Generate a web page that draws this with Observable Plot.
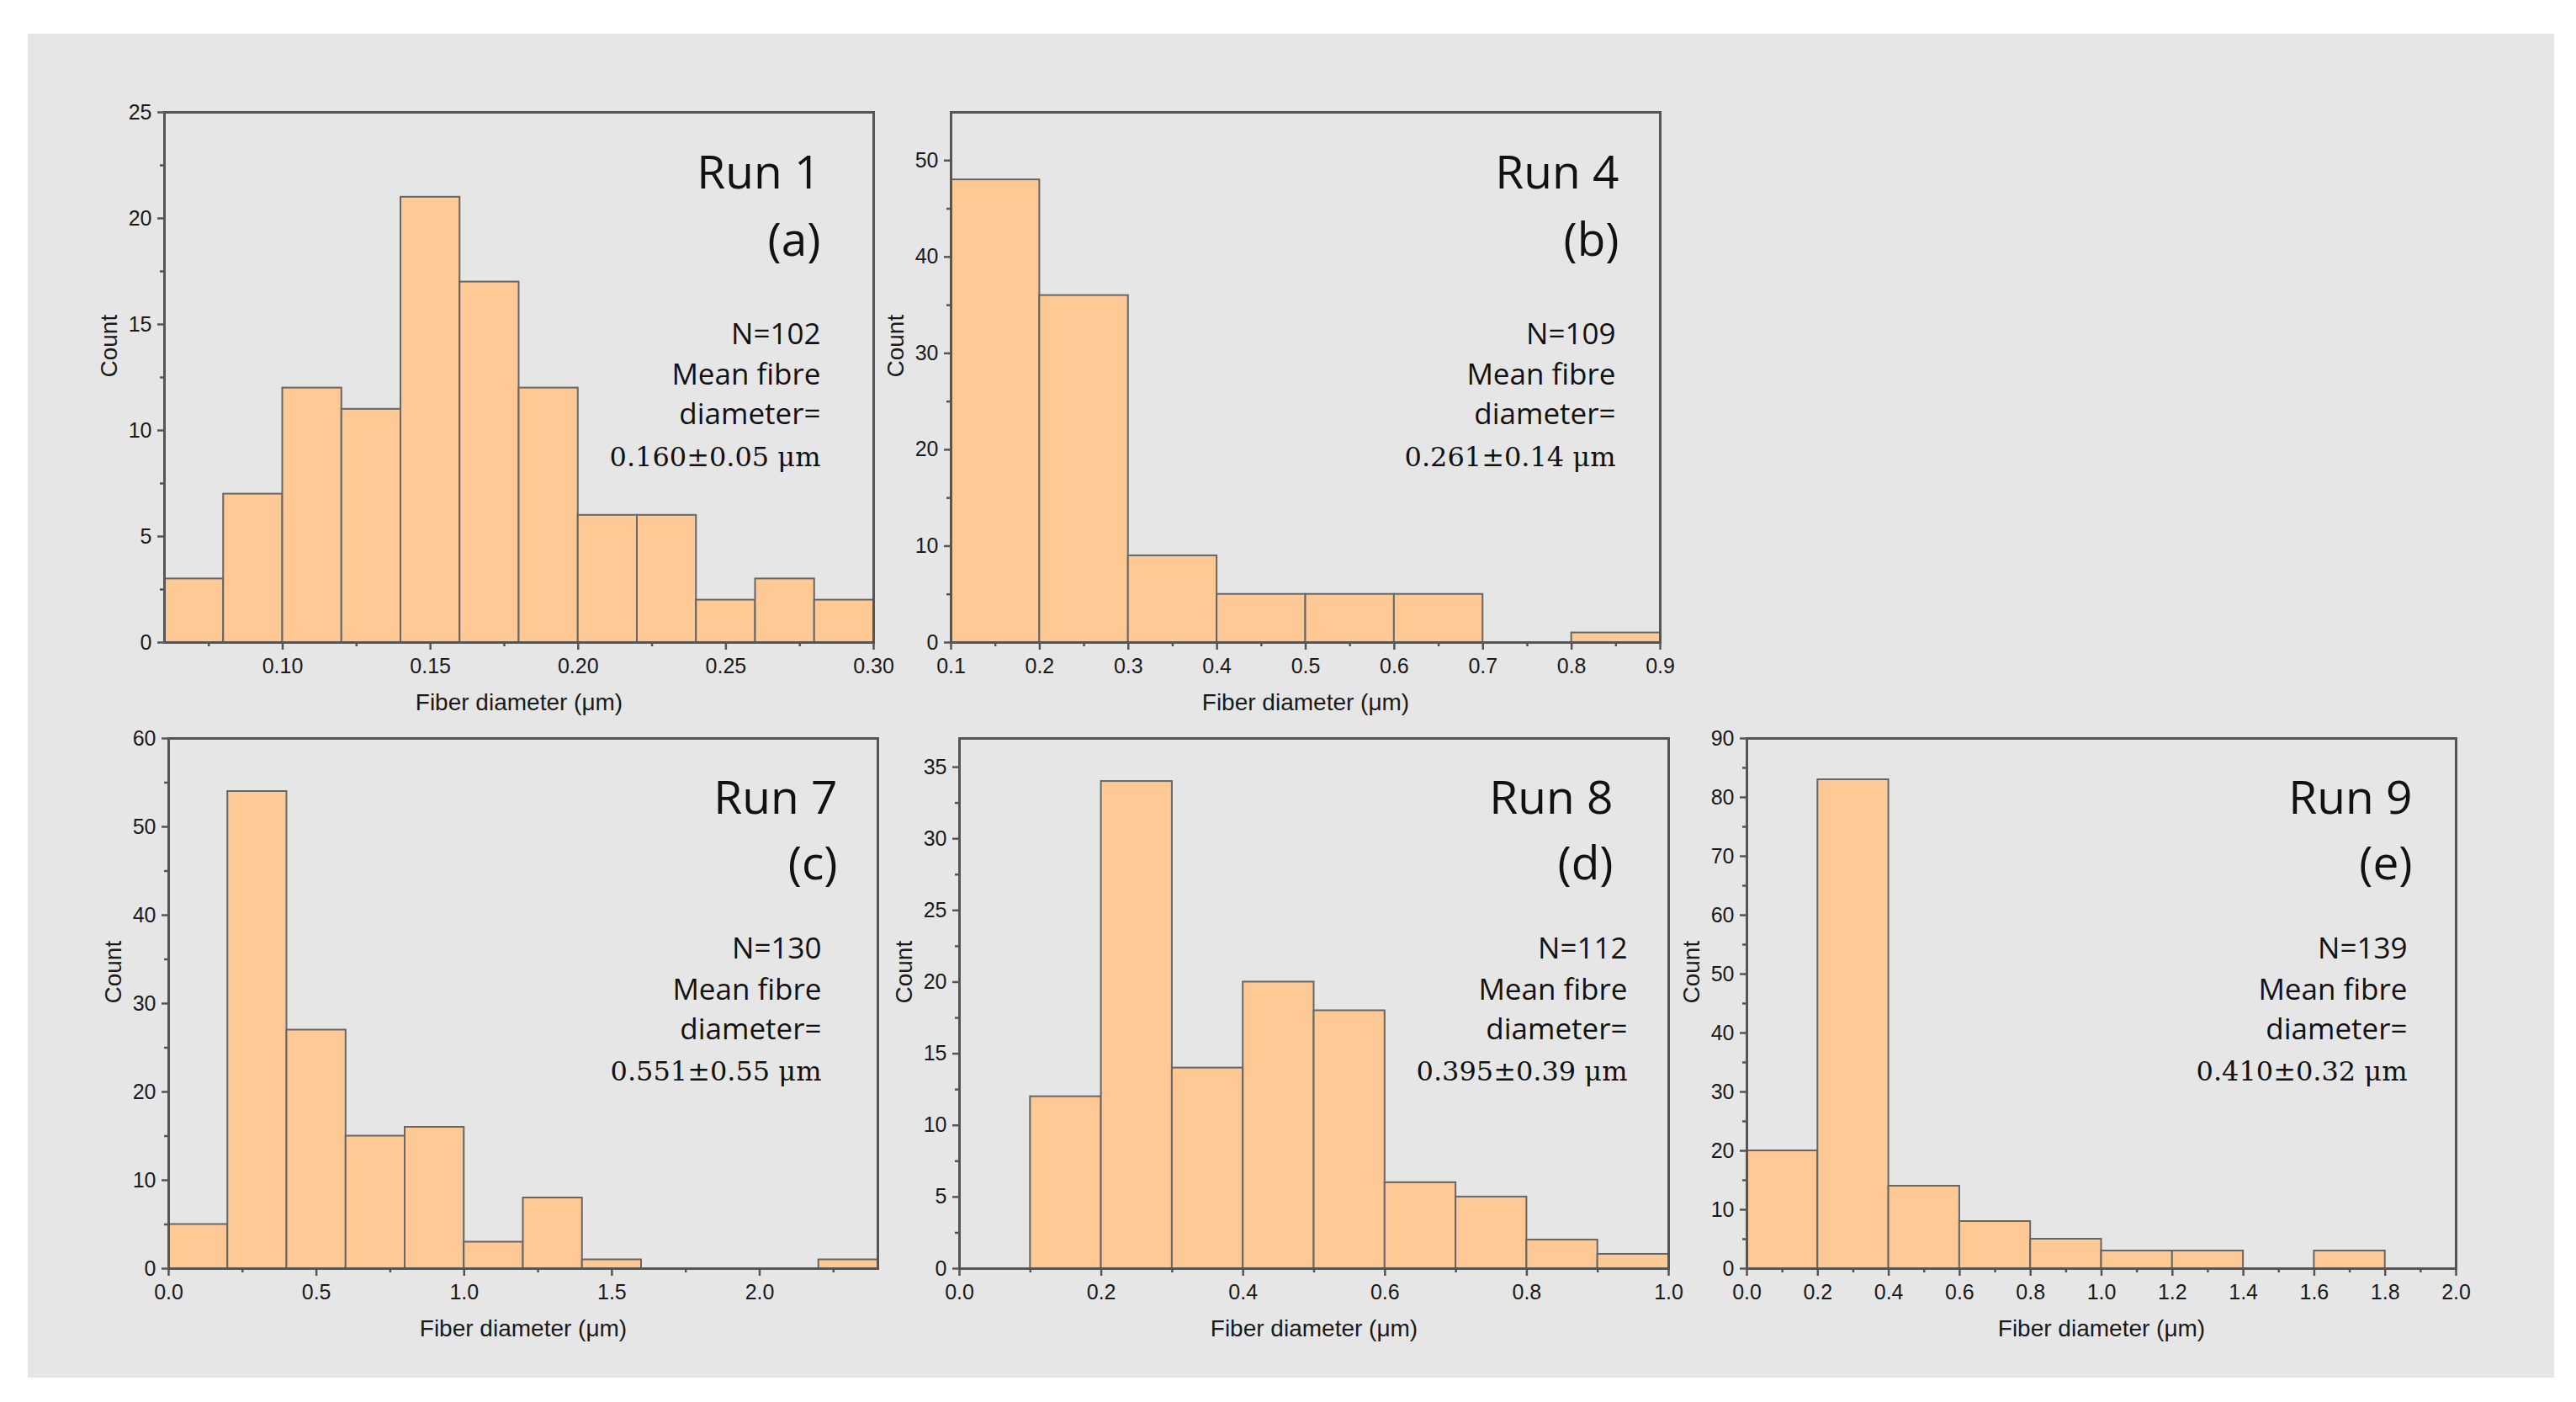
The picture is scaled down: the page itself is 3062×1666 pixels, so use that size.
<!DOCTYPE html>
<html>
<head>
<meta charset="utf-8">
<script src="https://cdn.jsdelivr.net/npm/d3@7"></script>
<script src="https://cdn.jsdelivr.net/npm/@observablehq/plot@0.6"></script>
<style>
html, body { margin: 0; padding: 0; background: #ffffff; }
#page { position: relative; width: 3062px; height: 1666px; overflow: hidden; background: #ffffff; }
#bg { position: absolute; left: 33px; top: 40px; width: 3003px; height: 1597px; background: #e6e6e6; }
.panel { position: absolute; }
.panel svg { overflow: visible; display: block; }
</style>
</head>
<body>
<div id="page"><div id="bg"></div></div>
<script>
// ---------- data ----------
const runNames = ["Run 1", "Run 4", "Run 7", "Run 8", "Run 9"];
const panelLetters = ["(a)", "(b)", "(c)", "(d)", "(e)"];
const sampleN = [102, 109, 130, 112, 139];
const meanDiameter = ["0.160", "0.261", "0.551", "0.395", "0.410"];
const sdDiameter = ["0.05", "0.14", "0.55", "0.39", "0.32"];
const xTitle = "Fiber diameter (\u03bcm)";
const yTitle = "Count";
const statsLine2 = "Mean fibre";
const statsLine3 = "diameter=";

// Run 1 (a)
const edgesA = [0.06, 0.08, 0.10, 0.12, 0.14, 0.16, 0.18, 0.20, 0.22, 0.24, 0.26, 0.28, 0.30];
const countsA = [3, 7, 12, 11, 21, 17, 12, 6, 6, 2, 3, 2];
const xTicksA = [0.10, 0.15, 0.20, 0.25, 0.30];
const xMinorA = [0.075, 0.125, 0.175, 0.225, 0.275];
const yTicksA = [0, 5, 10, 15, 20, 25];
const yMinorA = [2.5, 7.5, 12.5, 17.5, 22.5];

// Run 4 (b)
const edgesB = [0.1, 0.2, 0.3, 0.4, 0.5, 0.6, 0.7, 0.8, 0.9];
const countsB = [48, 36, 9, 5, 5, 5, 0, 1];
const xTicksB = [0.1, 0.2, 0.3, 0.4, 0.5, 0.6, 0.7, 0.8, 0.9];
const xMinorB = [0.15, 0.25, 0.35, 0.45, 0.55, 0.65, 0.75, 0.85];
const yTicksB = [0, 10, 20, 30, 40, 50];
const yMinorB = [5, 15, 25, 35, 45];

// Run 7 (c)
const edgesC = [0.0, 0.2, 0.4, 0.6, 0.8, 1.0, 1.2, 1.4, 1.6, 1.8, 2.0, 2.2, 2.4];
const countsC = [5, 54, 27, 15, 16, 3, 8, 1, 0, 0, 0, 1];
const xTicksC = [0.0, 0.5, 1.0, 1.5, 2.0];
const xMinorC = [0.25, 0.75, 1.25, 1.75, 2.25];
const yTicksC = [0, 10, 20, 30, 40, 50, 60];
const yMinorC = [5, 15, 25, 35, 45, 55];

// Run 8 (d)
const edgesD = [0.1, 0.2, 0.3, 0.4, 0.5, 0.6, 0.7, 0.8, 0.9, 1.0];
const countsD = [12, 34, 14, 20, 18, 6, 5, 2, 1];
const xTicksD = [0.0, 0.2, 0.4, 0.6, 0.8, 1.0];
const xMinorD = [0.1, 0.3, 0.5, 0.7, 0.9];
const yTicksD = [0, 5, 10, 15, 20, 25, 30, 35];
const yMinorD = [2.5, 7.5, 12.5, 17.5, 22.5, 27.5, 32.5];

// Run 9 (e)
const edgesE = [0.0, 0.2, 0.4, 0.6, 0.8, 1.0, 1.2, 1.4, 1.6, 1.8, 2.0];
const countsE = [20, 83, 14, 8, 5, 3, 3, 0, 3, 0];
const xTicksE = [0.0, 0.2, 0.4, 0.6, 0.8, 1.0, 1.2, 1.4, 1.6, 1.8, 2.0];
const xMinorE = [0.1, 0.3, 0.5, 0.7, 0.9, 1.1, 1.3, 1.5, 1.7, 1.9];
const yTicksE = [0, 10, 20, 30, 40, 50, 60, 70, 80, 90];
const yMinorE = [5, 15, 25, 35, 45, 55, 65, 75, 85];

// ---------- layout & style ----------
const M = {left: 110, right: 70, top: 20, bottom: 110};
const PW = 843, PH = 630;
const barFill = "#ffc995", barStroke = "#666666", axisColor = "#555555";
const titleFont = "'Open Sans', sans-serif";
const valueFont = "'DejaVu Serif', serif";
const tickFont = "'Liberation Sans', Arial, sans-serif";

const panels = [
  {edges: edgesA, counts: countsA, xDomain: [0.06, 0.30], yDomain: [0, 25], xt: xTicksA, xm: xMinorA, yt: yTicksA, ym: yMinorA, dec: 2, left: 195, top: 133, tr: 63, sr: 63, base: [90, 170, 275, 323, 370, 420]},
  {edges: edgesB, counts: countsB, xDomain: [0.1, 0.9], yDomain: [0, 55], xt: xTicksB, xm: xMinorB, yt: yTicksB, ym: yMinorB, dec: 1, left: 1130, top: 133, tr: 49, sr: 53, base: [90, 170, 275, 323, 370, 420]},
  {edges: edgesC, counts: countsC, xDomain: [0, 2.4], yDomain: [0, 60], xt: xTicksC, xm: xMinorC, yt: yTicksC, ym: yMinorC, dec: 1, left: 200, top: 877, tr: 48, sr: 67, base: [89, 167, 261, 310, 357, 406]},
  {edges: edgesD, counts: countsD, xDomain: [0, 1.0], yDomain: [0, 37], xt: xTicksD, xm: xMinorD, yt: yTicksD, ym: yMinorD, dec: 1, left: 1140, top: 877, tr: 66, sr: 49, base: [89, 167, 261, 310, 357, 406]},
  {edges: edgesE, counts: countsE, xDomain: [0, 2.0], yDomain: [0, 90], xt: xTicksE, xm: xMinorE, yt: yTicksE, ym: yMinorE, dec: 1, left: 2076, top: 877, tr: 52, sr: 58, base: [89, 167, 261, 310, 357, 406]}
];

const page = document.getElementById("page");

panels.forEach((p, i) => {
  const bins = p.counts.map((c, j) => ({x1: p.edges[j], x2: p.edges[j + 1], count: c}));
  const lbl = (txt, k, right, size, font) =>
    Plot.text([txt], {
      text: d => d, frameAnchor: "top-right", dx: -right, dy: p.base[k],
      textAnchor: "end", lineAnchor: "bottom", fontSize: size, fontFamily: font, fill: "#111"
    });
  const chart = Plot.plot({
    width: PW + M.left + M.right,
    height: PH + M.top + M.bottom,
    marginLeft: M.left, marginRight: M.right, marginTop: M.top, marginBottom: M.bottom,
    style: {background: "transparent", fontFamily: tickFont, fontSize: "25px", color: "#1a1a1a", overflow: "visible", maxWidth: "none"},
    x: {domain: p.xDomain},
    y: {domain: p.yDomain},
    marks: [
      Plot.rectY(bins, {x1: "x1", x2: "x2", y: "count", fill: barFill, stroke: barStroke, strokeWidth: 2}),
      Plot.frame({stroke: axisColor, strokeWidth: 3}),
      Plot.axisX({ticks: p.xt, tickSize: 9, tickPadding: 10, tickFormat: d => d.toFixed(p.dec), label: null, stroke: axisColor, strokeWidth: 2.5, fontSize: 25}),
      Plot.axisX({ticks: p.xm, tickSize: 5, tickFormat: () => "", label: null, stroke: axisColor, strokeWidth: 2.5}),
      Plot.axisY({ticks: p.yt, tickSize: 8, tickPadding: 7, tickFormat: d => String(d), label: null, stroke: axisColor, strokeWidth: 2.5, fontSize: 25}),
      Plot.axisY({ticks: p.ym, tickSize: 5, tickFormat: () => "", label: null, stroke: axisColor, strokeWidth: 2.5}),
      Plot.text([xTitle], {text: d => d, frameAnchor: "bottom", dy: 72, lineAnchor: "middle", fontSize: 28, fontFamily: tickFont, fill: "#1a1a1a"}),
      Plot.text([yTitle], {text: d => d, frameAnchor: "left", dx: -65, rotate: -90, lineAnchor: "middle", fontSize: 28, fontFamily: tickFont, fill: "#1a1a1a"}),
      lbl(runNames[i], 0, p.tr, 55, titleFont),
      lbl(panelLetters[i], 1, p.tr, 55, titleFont),
      lbl("N=" + sampleN[i], 2, p.sr, 35, titleFont),
      lbl(statsLine2, 3, p.sr, 35, titleFont),
      lbl(statsLine3, 4, p.sr, 35, titleFont),
      lbl(meanDiameter[i] + "\u00b1" + sdDiameter[i] + " \u03bcm", 5, p.sr, 32, valueFont)
    ]
  });
  const div = document.createElement("div");
  div.className = "panel";
  div.style.left = (p.left - M.left) + "px";
  div.style.top = (p.top - M.top) + "px";
  div.style.width = (PW + M.left + M.right) + "px";
  div.appendChild(chart);
  page.appendChild(div);
});
</script>
</body>
</html>
